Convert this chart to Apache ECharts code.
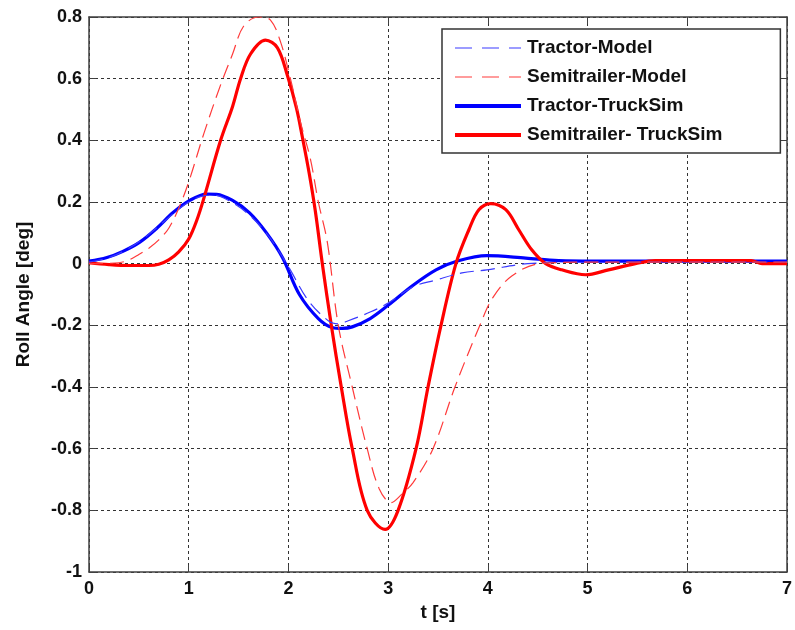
<!DOCTYPE html>
<html>
<head>
<meta charset="utf-8">
<script src="https://cdn.jsdelivr.net/npm/echarts@6/dist/echarts.min.js"></script>
<style>html,body{margin:0;padding:0;background:#fff;}#c{width:795px;height:630px;}</style>
</head>
<body>
<div id="c"></div>
<script>
// Tractor-Model (thin dashed blue)
var tractorModelT = [0,0.2,0.4,0.6,0.8,1.0,1.15,1.25,1.4,1.6,1.8,2.0,2.2,2.4,2.5,2.6,2.82,3.0,3.25,3.48,3.74,3.99,4.4,5.0,6.0,7.0];
var tractorModelV = [0.005,0.02,0.05,0.095,0.15,0.2,0.22,0.222,0.205,0.16,0.09,-0.01,-0.12,-0.185,-0.195,-0.185,-0.157,-0.128,-0.075,-0.053,-0.03,-0.02,0.0,0.005,0.005,0.005];
// Semitrailer-Model (thin dashed red)
var semiModelT = [0,0.3,0.4,0.5,0.6,0.7,0.8,0.9,1.0,1.15,1.32,1.44,1.55,1.7,1.82,1.92,2.02,2.12,2.22,2.3,2.39,2.5,2.64,2.79,2.91,3.03,3.13,3.25,3.45,3.67,3.92,4.05,4.24,4.52,5.0,6.0,7.0];
var semiModelV = [0,0.003,0.012,0.03,0.05,0.077,0.115,0.18,0.265,0.42,0.58,0.68,0.77,0.80,0.79,0.72,0.6,0.46,0.34,0.2,0.07,-0.2,-0.4,-0.6,-0.73,-0.775,-0.75,-0.71,-0.6,-0.4,-0.2,-0.11,-0.04,0.0,0.005,0.005,0.005];
// Tractor-TruckSim (thick solid blue)
var tractorTST = [0,0.18,0.34,0.51,0.68,0.84,1.01,1.18,1.28,1.44,1.61,1.78,1.94,2.11,2.3,2.44,2.54,2.64,2.82,3.0,3.25,3.48,3.68,3.99,4.38,4.71,5.5,7.0];
var tractorTSV = [0.008,0.02,0.04,0.07,0.115,0.165,0.205,0.226,0.225,0.205,0.165,0.1,0.02,-0.1,-0.178,-0.207,-0.21,-0.205,-0.178,-0.135,-0.07,-0.02,0.007,0.026,0.018,0.01,0.008,0.008];
// Semitrailer-TruckSim (thick solid red)
var semiTST = [0,0.2,0.4,0.6,0.7,0.8,0.9,1.0,1.08,1.15,1.32,1.44,1.52,1.62,1.77,1.89,1.99,2.08,2.14,2.21,2.27,2.34,2.43,2.53,2.64,2.79,2.97,3.10,3.28,3.40,3.53,3.68,3.81,3.91,4.03,4.18,4.31,4.44,4.58,4.74,4.98,5.21,5.48,5.68,6.64,6.75,7.0];
var semiTSV = [0.003,-0.003,-0.006,-0.006,-0.002,0.012,0.038,0.08,0.14,0.21,0.40,0.51,0.6,0.68,0.725,0.70,0.61,0.505,0.41,0.29,0.17,0.0,-0.2,-0.4,-0.6,-0.8,-0.862,-0.8,-0.6,-0.4,-0.2,0.0,0.11,0.175,0.195,0.175,0.11,0.045,0.0,-0.02,-0.036,-0.02,0.0,0.01,0.01,0.0,0.0];

var seriesNames = ['Tractor-Model','Semitrailer-Model','Tractor-TruckSim','Semitrailer- TruckSim'];
var yMin = -1, yMax = 0.8, yStep = 0.2;

function pairs(t, v) { return t.map(function (x, i) { return [x, v[i]]; }); }

var chart = echarts.init(document.getElementById('c'), null, {renderer: 'canvas'});
var FONT = '"Liberation Sans", Arial, sans-serif';
var axisCol = '#404040';
var gridLine = {show: true, lineStyle: {color: '#333', width: 1, type: [3, 3]}};
var labelStyle = {color: '#111', fontFamily: FONT, fontWeight: 'bold', fontSize: 18};
var dashType = [14, 7];
var hideSym = {opacity: 0, color: 'rgba(0,0,0,0)', borderWidth: 0};

chart.setOption({
  animation: false,
  backgroundColor: '#fff',
  grid: {left: 89, right: 5, top: 17, bottom: 58, containLabel: false},
  legend: {
    orient: 'vertical', left: 442, top: 29,
    backgroundColor: '#fff', borderColor: '#333', borderWidth: 1.5,
    padding: [9, 58, 8, 11], itemGap: 9, itemWidth: 66, itemHeight: 12,
    textStyle: {color: '#111', fontFamily: FONT, fontWeight: 'bold', fontSize: 19, lineHeight: 20, padding: [0, 0, 0, 1]},
    data: [
      {name: seriesNames[0], itemStyle: hideSym, lineStyle: {color: '#3a3aff', width: 1.2, type: [17, 10]}},
      {name: seriesNames[1], itemStyle: hideSym, lineStyle: {color: '#ff3a3a', width: 1.2, type: [17, 10]}},
      {name: seriesNames[2], itemStyle: hideSym, lineStyle: {color: '#0000ff', width: 4}},
      {name: seriesNames[3], itemStyle: hideSym, lineStyle: {color: '#ff0000', width: 4}}
    ]
  },
  xAxis: [{
    type: 'value', min: 0, max: 7, interval: 1,
    name: 't [s]', nameLocation: 'middle', nameGap: 19,
    nameTextStyle: {color: '#111', fontFamily: FONT, fontWeight: 'bold', fontSize: 19},
    axisLine: {show: true, onZero: false, lineStyle: {color: axisCol, width: 1.5}},
    axisTick: {show: true, inside: true, length: 7, lineStyle: {color: axisCol}},
    axisLabel: Object.assign({margin: 8}, labelStyle),
    splitLine: gridLine
  }, {
    type: 'value', min: 0, max: 7, interval: 1, position: 'top',
    axisLine: {show: true, onZero: false, lineStyle: {color: axisCol, width: 1.5}},
    axisTick: {show: true, inside: true, length: 7, lineStyle: {color: axisCol}},
    axisLabel: {show: false}, splitLine: {show: false}
  }],
  yAxis: [{
    type: 'value', min: yMin, max: yMax, interval: yStep,
    name: 'Roll Angle [deg]', nameLocation: 'middle', nameGap: 56,
    nameTextStyle: {color: '#111', fontFamily: FONT, fontWeight: 'bold', fontSize: 19},
    axisLine: {show: true, onZero: false, lineStyle: {color: axisCol, width: 1.5}},
    axisTick: {show: true, inside: true, length: 7, lineStyle: {color: axisCol}},
    axisLabel: Object.assign({margin: 7, formatter: function (v) { return String(Math.round(v * 10) / 10); }}, labelStyle),
    splitLine: gridLine
  }, {
    type: 'value', min: yMin, max: yMax, interval: yStep, position: 'right',
    axisLine: {show: true, onZero: false, lineStyle: {color: axisCol, width: 1.5}},
    axisTick: {show: true, inside: true, length: 7, lineStyle: {color: axisCol}},
    axisLabel: {show: false}, splitLine: {show: false}
  }],
  series: [
    {name: seriesNames[0], type: 'line', data: pairs(tractorModelT, tractorModelV), symbol: 'none', smooth: 0.35,
     lineStyle: {color: '#3a3aff', width: 1.2, type: dashType}, itemStyle: {color: '#3a3aff'}, z: 3},
    {name: seriesNames[1], type: 'line', data: pairs(semiModelT, semiModelV), symbol: 'none', smooth: 0.35,
     lineStyle: {color: '#ff3a3a', width: 1.2, type: dashType}, itemStyle: {color: '#ff3a3a'}, z: 3},
    {name: seriesNames[2], type: 'line', data: pairs(tractorTST, tractorTSV), symbol: 'none', smooth: 0.35,
     lineStyle: {color: '#0000ff', width: 3.2}, itemStyle: {color: '#0000ff'}, z: 2},
    {name: seriesNames[3], type: 'line', data: pairs(semiTST, semiTSV), symbol: 'none', smooth: 0.35,
     lineStyle: {color: '#ff0000', width: 3.2}, itemStyle: {color: '#ff0000'}, z: 2}
  ]
});
</script>
</body>
</html>
